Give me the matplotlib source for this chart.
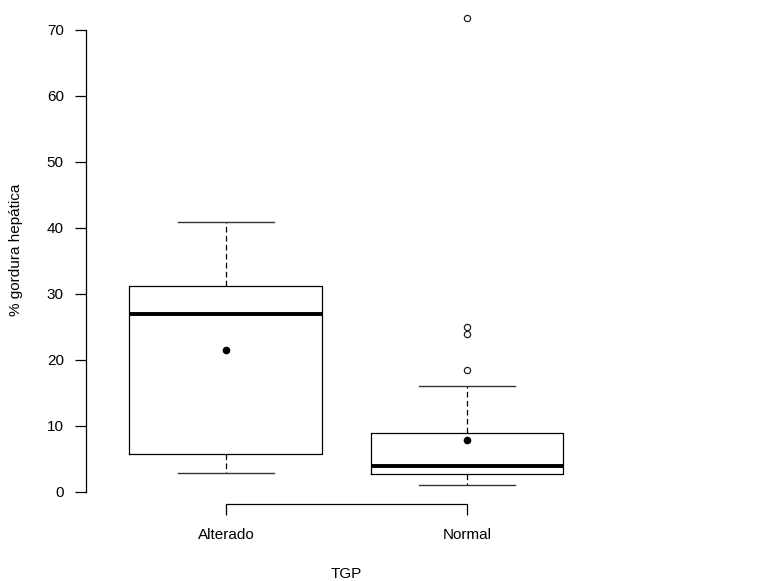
import matplotlib.pyplot as plt

# group labels and box summaries
groups = ['Alterado', 'Normal']
whisker_low = [2.8, 1.0]
q1 = [5.8, 2.65]
medians = [27.0, 4.0]
q3 = [31.2, 8.85]
whisker_high = [40.9, 16.1]
means = [21.5, 7.9]
outliers = [[], [18.5, 23.9, 25.0, 71.7]]

plt.rcParams['font.family'] = ['Liberation Sans', 'DejaVu Sans']

stats = []
for i, g in enumerate(groups):
    stats.append({'label': g, 'whislo': whisker_low[i], 'q1': q1[i],
                  'med': medians[i], 'q3': q3[i], 'whishi': whisker_high[i],
                  'mean': means[i], 'fliers': outliers[i]})

fig = plt.figure(figsize=(7.74, 5.81), dpi=100)
ax = fig.add_axes([0.1111, 0.1325, 0.673, 0.8675])

ax.bxp(stats, positions=[1, 2], widths=0.8, showmeans=True,
       boxprops=dict(color='black', lw=0.9),
       medianprops=dict(color='black', lw=2.8, solid_capstyle='butt'),
       whiskerprops=dict(color='black', lw=0.9, linestyle=(0, (4.5, 2.7))),
       capprops=dict(color='#333333', lw=1.0),
       capwidths=0.4,
       meanprops=dict(marker='o', markerfacecolor='black', markeredgecolor='black', markersize=4.5),
       flierprops=dict(marker='o', markerfacecolor='none', markeredgecolor='#222222',
                       markersize=4.5, markeredgewidth=0.9))

ax.set_xlim(0.42, 2.58)
ax.set_ylim(-1.83, 74.5)

for s in ['top', 'right']:
    ax.spines[s].set_visible(False)
ax.spines['left'].set_bounds(0, 70)
ax.spines['bottom'].set_bounds(1, 2)
ax.spines['left'].set_linewidth(0.9)
ax.spines['bottom'].set_linewidth(0.9)

ax.set_yticks(range(0, 71, 10))
ax.set_xticks([1, 2])
ax.set_xticklabels(groups)
ax.tick_params(direction='out', length=8, width=0.9, labelsize=11, colors='black')
ax.tick_params(axis='y', pad=8)
ax.tick_params(axis='x', pad=9)

ax.set_ylabel('% gordura hepática', fontsize=11)
ax.set_xlabel('TGP', fontsize=11)
ax.yaxis.set_label_coords(-0.121, 0.504)
ax.xaxis.set_label_coords(0.5, -0.125)

fig.savefig('out.png', dpi=100)
